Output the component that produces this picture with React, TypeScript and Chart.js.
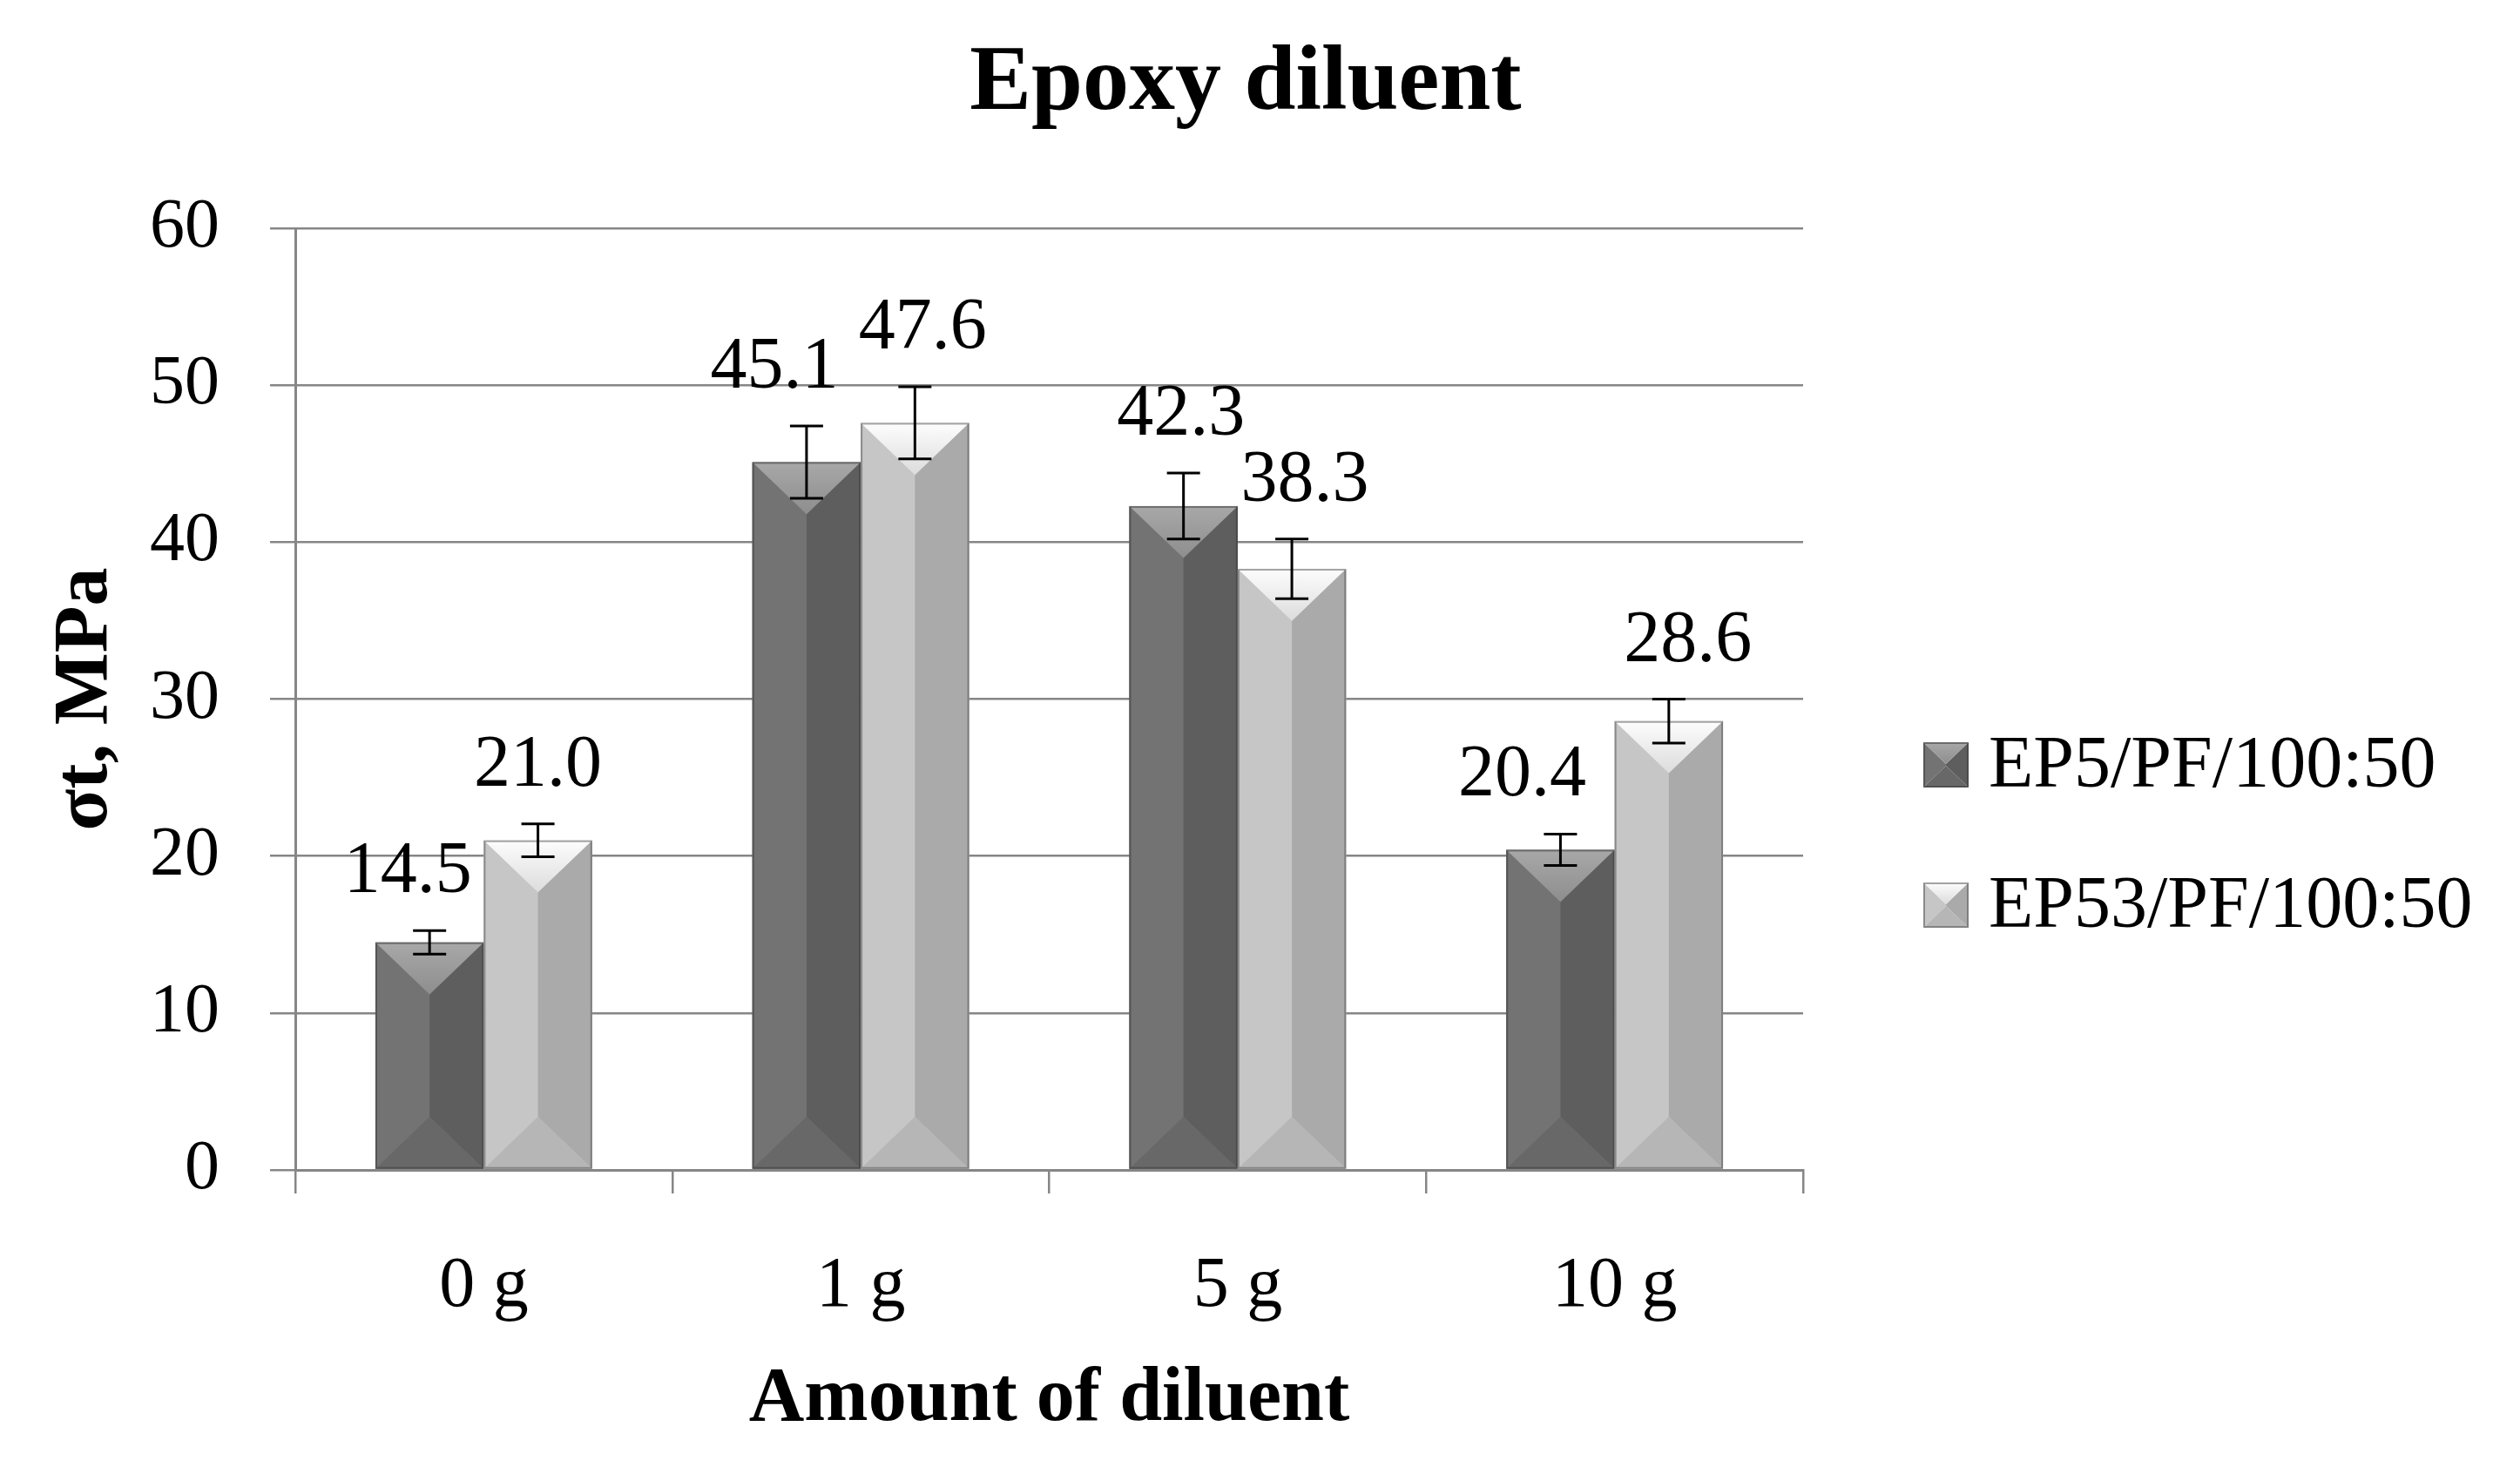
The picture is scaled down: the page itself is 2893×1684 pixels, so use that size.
import React, { useEffect, useRef } from "react";
import { Chart, registerables } from "chart.js";

Chart.register(...registerables);

// ---- data ----
const categories = ["0 g", "1 g", "5 g", "10 g"];
const seriesNames = ["EP5/PF/100:50", "EP53/PF/100:50"];
const ep5Values = [14.5, 45.1, 42.3, 20.4];
const ep53Values = [21.0, 47.6, 38.3, 28.6];
const ep5Errors = [0.75, 2.3, 2.1, 1.0];
const ep53Errors = [1.05, 2.3, 1.9, 1.4];
const yMin = 0;
const yMax = 60;
const yStep = 10;
const titleText = "Epoxy diluent";
const xTitleText = "Amount of diluent";
const yTitleText = "σt, MPa";

// ---- style ----
const FONT = "'Liberation Serif', 'Times New Roman', serif";
const GRID = "#868686";
const PALETTE = [
  { top1: "#a8a8a8", top2: "#8e8e8e", left: "#737373", right: "#5e5e5e", bottom: "#686868", edge: "rgba(60,60,60,0.55)" },
  { top1: "#fdfdfd", top2: "#dcdcdc", left: "#c6c6c6", right: "#aaaaaa", bottom: "#b6b6b6", edge: "rgba(90,90,90,0.55)" },
];
const LABEL_NUDGE = [
  [-25, -37, -3, -44],
  [0, 9, 15, 22],
];

function drawBevel(ctx: CanvasRenderingContext2D, x0: number, y0: number, w: number, h: number, pal: any) {
  if (h <= 0) return;
  const x1 = x0 + w;
  const yb = y0 + h;
  const xc = x0 + w / 2;
  const d = Math.min(w * 0.48, h / 2);
  ctx.save();
  ctx.fillStyle = pal.left;
  ctx.beginPath();
  ctx.moveTo(x0, y0);
  ctx.lineTo(xc, y0 + d);
  ctx.lineTo(xc, yb - d);
  ctx.lineTo(x0, yb);
  ctx.closePath();
  ctx.fill();
  ctx.fillStyle = pal.right;
  ctx.beginPath();
  ctx.moveTo(x1, y0);
  ctx.lineTo(xc, y0 + d);
  ctx.lineTo(xc, yb - d);
  ctx.lineTo(x1, yb);
  ctx.closePath();
  ctx.fill();
  ctx.fillStyle = pal.bottom;
  ctx.beginPath();
  ctx.moveTo(x0, yb);
  ctx.lineTo(xc, yb - d);
  ctx.lineTo(x1, yb);
  ctx.closePath();
  ctx.fill();
  const g = ctx.createLinearGradient(0, y0, 0, y0 + d);
  g.addColorStop(0, pal.top1);
  g.addColorStop(1, pal.top2);
  ctx.fillStyle = g;
  ctx.beginPath();
  ctx.moveTo(x0, y0);
  ctx.lineTo(xc, y0 + d);
  ctx.lineTo(x1, y0);
  ctx.closePath();
  ctx.fill();
  ctx.strokeStyle = pal.edge;
  ctx.lineWidth = 2;
  ctx.strokeRect(x0 + 1, y0 + 1, w - 2, h - 2);
  ctx.restore();
}

const decorPlugin = {
  id: "decor",
  afterDatasetsDraw(chart: any) {
    const ctx: CanvasRenderingContext2D = chart.ctx;
    const yScale = chart.scales.y;
    const errs = [ep5Errors, ep53Errors];
    chart.data.datasets.forEach((ds: any, di: number) => {
      const meta = chart.getDatasetMeta(di);
      const pal = PALETTE[di];
      meta.data.forEach((el: any, i: number) => {
        const p = el.getProps(["x", "y", "base", "width"], true);
        drawBevel(ctx, p.x - p.width / 2, p.y, p.width, p.base - p.y, pal);
        const v = ds.data[i];
        const e = errs[di][i];
        const yt = yScale.getPixelForValue(v + e);
        const yb = yScale.getPixelForValue(v - e);
        ctx.save();
        ctx.strokeStyle = "#000";
        ctx.lineWidth = 3;
        ctx.beginPath();
        ctx.moveTo(p.x, yt);
        ctx.lineTo(p.x, yb);
        ctx.moveTo(p.x - 19, yt);
        ctx.lineTo(p.x + 19, yt);
        ctx.moveTo(p.x - 19, yb);
        ctx.lineTo(p.x + 19, yb);
        ctx.stroke();
        ctx.fillStyle = "#000";
        ctx.font = `84px ${FONT}`;
        ctx.textAlign = "center";
        ctx.textBaseline = "alphabetic";
        ctx.fillText(v.toFixed(1), p.x + LABEL_NUDGE[di][i], yt - 44);
        ctx.restore();
      });
    });
  },
  afterDraw(chart: any) {
    const ctx: CanvasRenderingContext2D = chart.ctx;
    ctx.save();
    ctx.fillStyle = "#000";
    ctx.font = `bold 106px ${FONT}`;
    ctx.textAlign = "center";
    ctx.textBaseline = "alphabetic";
    ctx.fillText(titleText, 1430, 125);
    const area = chart.chartArea;
    ctx.font = `bold 88px ${FONT}`;
    ctx.fillText(xTitleText, (area.left + area.right) / 2, 1630);
    ctx.save();
    ctx.translate(122, (area.top + area.bottom) / 2);
    ctx.rotate(-Math.PI / 2);
    ctx.fillText(yTitleText, 0, 0);
    ctx.restore();
    const rows = [878, 1039];
    seriesNames.forEach((name, i) => {
      const cy = rows[i];
      drawBevel(ctx, 2208, cy - 26, 52, 52, PALETTE[i]);
      ctx.fillStyle = "#000";
      ctx.font = `84px ${FONT}`;
      ctx.textAlign = "left";
      ctx.textBaseline = "middle";
      ctx.fillText(name, 2283, cy + 3);
    });
    ctx.restore();
  },
};

export default function App() {
  const ref = useRef<HTMLCanvasElement | null>(null);
  useEffect(() => {
    if (!ref.current) return;
    const chart = new Chart(ref.current, {
      type: "bar",
      data: {
        labels: categories,
        datasets: [
          { label: seriesNames[0], data: ep5Values, backgroundColor: PALETTE[0].left, borderWidth: 0 },
          { label: seriesNames[1], data: ep53Values, backgroundColor: PALETTE[1].left, borderWidth: 0 },
        ],
      },
      options: {
        responsive: false,
        animation: false,
        devicePixelRatio: 1,
        layout: { padding: { top: 262, right: 823, bottom: 0, left: 0 } },
        datasets: { bar: { categoryPercentage: 0.575, barPercentage: 1.0 } },
        plugins: { legend: { display: false }, title: { display: false }, tooltip: { enabled: false } },
        scales: {
          x: {
            offset: true,
            afterFit: (s: any) => { s.height = 341; },
            grid: { display: true, drawOnChartArea: false, drawTicks: true, tickLength: 27, color: GRID, lineWidth: 2.5, offset: true },
            border: { display: true, color: GRID, width: 3 },
            ticks: { color: "#000", font: { family: FONT, size: 82 }, padding: 58 },
          },
          y: {
            min: yMin,
            max: yMax,
            afterFit: (s: any) => { s.width = 339; },
            grid: { color: GRID, lineWidth: 2.5, tickLength: 29, drawTicks: true },
            border: { display: true, color: GRID, width: 3 },
            ticks: { stepSize: yStep, color: "#000", font: { family: FONT, size: 80 }, padding: 58 },
          },
        },
      },
      plugins: [decorPlugin],
    } as any);
    return () => chart.destroy();
  }, []);
  return (
    <div style={{ position: "fixed", left: 0, top: 0, width: 2893, height: 1684, background: "#fff" }}>
      <canvas ref={ref} width={2893} height={1684} style={{ width: 2893, height: 1684, display: "block" }} />
    </div>
  );
}
